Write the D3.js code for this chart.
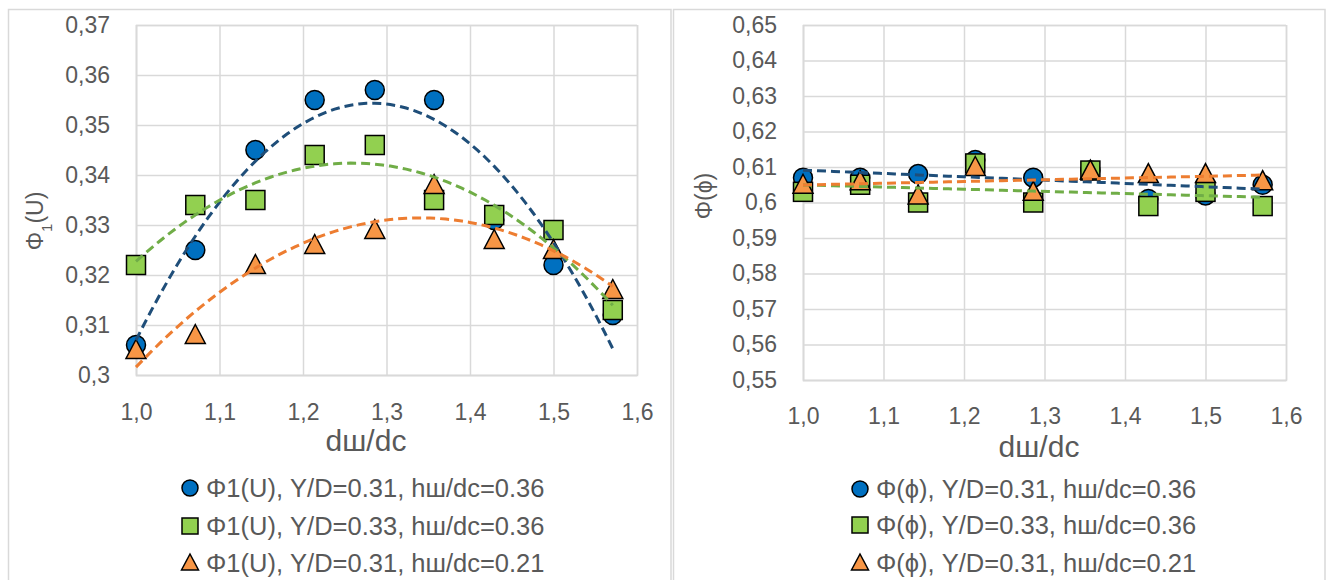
<!DOCTYPE html>
<html>
<head>
<meta charset="utf-8">
<script src="https://cdn.jsdelivr.net/npm/d3@7"></script>
<style>
  body { margin: 0; background: #fff; }
  text { font-family: "Liberation Sans", Arial, sans-serif; fill: #595959; }
</style>
</head>
<body>
<script>
// x positions (dш/dc) shared by all series
const ratio = [1.0, 1.071, 1.143, 1.214, 1.286, 1.357, 1.429, 1.5, 1.571];

// left panel: Φ1(U)
const uBlue   = [0.306, 0.325, 0.345, 0.355, 0.357, 0.355, 0.331, 0.322, 0.312];
const uGreen  = [0.322, 0.334, 0.335, 0.344, 0.346, 0.335, 0.332, 0.329, 0.313];
const uOrange = [0.305, 0.308, 0.322, 0.326, 0.329, 0.338, 0.327, 0.325, 0.317];

// right panel: Φ(ϕ)
const fBlue   = [0.607, 0.607, 0.608, 0.612, 0.607, 0.609, 0.601, 0.602, 0.605];
const fGreen  = [0.603, 0.605, 0.600, 0.611, 0.600, 0.609, 0.599, 0.603, 0.599];
const fOrange = [0.605, 0.606, 0.602, 0.610, 0.603, 0.609, 0.608, 0.608, 0.606];

const xTicks = [1.0, 1.1, 1.2, 1.3, 1.4, 1.5, 1.6];
const uTicks = [0.30, 0.31, 0.32, 0.33, 0.34, 0.35, 0.36, 0.37];
const fTicks = [0.55, 0.56, 0.57, 0.58, 0.59, 0.60, 0.61, 0.62, 0.63, 0.64, 0.65];

const uLegend = ["Φ1(U), Y/D=0.31, hш/dc=0.36", "Φ1(U), Y/D=0.33, hш/dc=0.36", "Φ1(U), Y/D=0.31, hш/dc=0.21"];
const fLegend = ["Φ(ϕ), Y/D=0.31, hш/dc=0.36", "Φ(ϕ), Y/D=0.33, hш/dc=0.36", "Φ(ϕ), Y/D=0.31, hш/dc=0.21"];

const styles = [
  {shape: "circle",   fill: "#0070c0", trend: "#1f4e79"},
  {shape: "square",   fill: "#92d050", trend: "#70ad47"},
  {shape: "triangle", fill: "#f79646", trend: "#ed7d31"}
];

const comma = s => s.replace(".", ",");
const fmtX = v => comma(d3.format(".1f")(v));
const fmtY = v => comma(String(+v.toFixed(2)));

// least squares polynomial fit (excel trendline), order 1 or 2
function polyfit(xs, ys, order) {
  const n = order + 1;
  const S = new Array(2 * n - 1).fill(0), T = new Array(n).fill(0);
  xs.forEach((x, i) => {
    for (let k = 0; k < S.length; k++) S[k] += Math.pow(x, k);
    for (let k = 0; k < n; k++) T[k] += ys[i] * Math.pow(x, k);
  });
  const A = d3.range(n).map(r => d3.range(n).map(c => S[r + c]).concat([T[r]]));
  for (let c = 0; c < n; c++) {
    for (let r = c + 1; r < n; r++) {
      const f = A[r][c] / A[c][c];
      for (let k = c; k <= n; k++) A[r][k] -= f * A[c][k];
    }
  }
  const b = new Array(n).fill(0);
  for (let r = n - 1; r >= 0; r--) {
    let s = A[r][n];
    for (let k = r + 1; k < n; k++) s -= A[r][k] * b[k];
    b[r] = s / A[r][r];
  }
  return x => b.reduce((acc, c, k) => acc + c * Math.pow(x, k), 0);
}

function marker(g, shape, size) {
  const h = size / 2;
  if (shape === "circle") return g.append("circle").attr("r", h);
  if (shape === "square") return g.append("rect").attr("x", -h).attr("y", -h).attr("width", size).attr("height", size);
  return g.append("path").attr("d", `M0,${-h - 1}L${h + 0.5},${h - 1}L${-h - 0.5},${h - 1}Z`);
}

const svg = d3.select("body").append("svg").attr("width", 1332).attr("height", 580);

function drawPanel(p) {
  svg.append("rect")
    .attr("x", p.frame[0]).attr("y", 9.5)
    .attr("width", p.frame[1] - p.frame[0]).attr("height", 600)
    .attr("fill", "#fff").attr("stroke", "#d9d9d9").attr("stroke-width", 1.5);

  const x = d3.scaleLinear().domain([1.0, 1.6]).range([p.x0, p.x1]);
  const y = d3.scaleLinear().domain(p.yDomain).range([p.y1, p.y0]);

  const gy = svg.append("g").attr("transform", `translate(${p.x0},0)`)
    .call(d3.axisLeft(y).tickValues(p.yTicks).tickFormat(fmtY).tickSize(-(p.x1 - p.x0)).tickPadding(26));
  const gx = svg.append("g").attr("transform", `translate(0,${p.y1})`)
    .call(d3.axisBottom(x).tickValues(xTicks).tickFormat(fmtX).tickSize(-(p.y1 - p.y0)).tickPadding(p.xPad));
  [gx, gy].forEach(g => {
    g.select(".domain").attr("stroke", "#d9d9d9").attr("stroke-width", 1.5);
    g.selectAll(".tick line").attr("stroke", "#d9d9d9").attr("stroke-width", 1.5);
    g.selectAll(".tick text").style("font-size", "23px").attr("fill", "#595959");
  });

  // markers
  p.series.forEach((vals, si) => {
    const st = styles[si];
    vals.forEach((v, i) => {
      const g = svg.append("g").attr("transform", `translate(${x(ratio[i])},${y(v)})`);
      marker(g, st.shape, 19).attr("fill", st.fill).attr("stroke", "#000").attr("stroke-width", 1.5);
    });
  });

  // trendlines
  const line = d3.line().x(d => x(d[0])).y(d => y(d[1]));
  p.series.forEach((vals, si) => {
    const f = polyfit(ratio, vals, p.order);
    const pts = d3.range(0, 61).map(k => {
      const xv = ratio[0] + (ratio[ratio.length - 1] - ratio[0]) * k / 60;
      return [xv, f(xv)];
    });
    svg.append("path").attr("d", line(pts))
      .attr("fill", "none").attr("stroke", styles[si].trend)
      .attr("stroke-width", 3).attr("stroke-dasharray", "9,5");
  });

  // axis titles
  svg.append("text").attr("x", p.xTitle[0]).attr("y", p.xTitle[1])
    .attr("text-anchor", "middle").style("font-size", "30px").text("dш/dc");
  const yt = svg.append("text")
    .attr("transform", `translate(${p.yTitle[0]},${p.yTitle[1]}) rotate(-90)`)
    .attr("text-anchor", "middle").style("font-size", "23px");
  p.yTitleParts.forEach(part => {
    const ts = yt.append("tspan").text(part.t);
    if (part.sub) ts.attr("baseline-shift", "sub").style("font-size", "15px");
  });

  // legend
  p.legend.forEach((lab, i) => {
    const cy = p.legendRows[i];
    const g = svg.append("g").attr("transform", `translate(${p.legendX},${cy})`);
    marker(g, styles[i].shape, 16).attr("fill", styles[i].fill).attr("stroke", "#000").attr("stroke-width", 1.5);
    svg.append("text").attr("x", p.legendX + 16).attr("y", cy).attr("dy", "0.35em")
      .style("font-size", "25.5px").text(lab);
  });
}

drawPanel({
  frame: [8.5, 671], x0: 136, x1: 637, y0: 25, y1: 375,
  yDomain: [0.30, 0.37], yTicks: uTicks, xPad: 29, order: 2,
  series: [uBlue, uGreen, uOrange],
  xTitle: [366, 451], yTitle: [43, 221],
  yTitleParts: [{t: "Φ"}, {t: "1", sub: true}, {t: "(U)"}],
  legend: uLegend, legendX: 190, legendRows: [488, 526, 563]
});

drawPanel({
  frame: [673.5, 1325], x0: 803, x1: 1286, y0: 25, y1: 380,
  yDomain: [0.55, 0.65], yTicks: fTicks, xPad: 28, order: 1,
  series: [fBlue, fGreen, fOrange],
  xTitle: [1039, 457], yTitle: [712, 196],
  yTitleParts: [{t: "Φ(ϕ)"}],
  legend: fLegend, legendX: 860, legendRows: [489, 525, 563]
});
</script>
</body>
</html>
